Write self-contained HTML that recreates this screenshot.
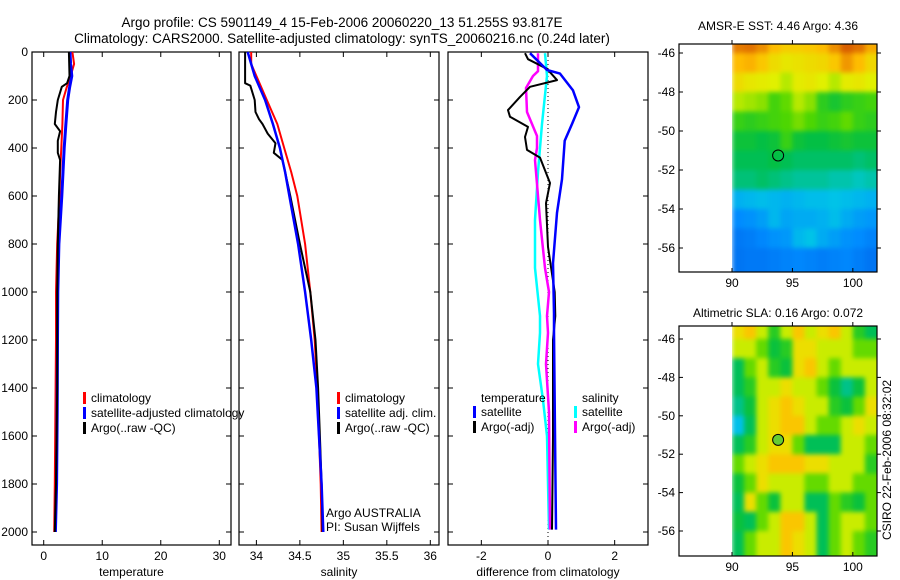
<!DOCTYPE html>
<html><head><meta charset="utf-8"><style>
body{margin:0;background:#fff}
svg{display:block;font-family:"Liberation Sans",sans-serif}
</style></head><body>
<svg id="fig" width="900" height="580" viewBox="0 0 900 580">
<defs><filter id="soft" x="0" y="0" width="1" height="1" color-interpolation-filters="sRGB"><feGaussianBlur stdDeviation="2.5" edgeMode="duplicate"/></filter></defs>
<text x="342" y="27" text-anchor="middle" font-size="13.5">Argo profile: CS 5901149_4 15-Feb-2006 20060220_13 51.255S 93.817E</text>
<text x="342" y="43" text-anchor="middle" font-size="13.5">Climatology: CARS2000. Satellite-adjusted climatology: synTS_20060216.nc (0.24d later)</text>
<text transform="translate(891,460) rotate(-90)" text-anchor="middle" font-size="12">CSIRO 22-Feb-2006 08:32:02</text>
<g id="plots"></g>
</svg>
<script>
// ---- profile data (depth in dbar) ----
const tDepth=[0,50,100,150,200,300,400,500,600,800,1000,1200,1500,1800,2000];
const tClim=[4.9,5.2,4.6,3.9,3.3,3.2,3.0,2.8,2.7,2.3,2.1,2.1,2.0,1.9,1.8];
const tSat=[4.5,4.6,4.8,4.4,4.1,3.8,3.5,3.3,3.1,2.6,2.4,2.35,2.3,2.2,2.0];
const tArgoDepth=[0,100,130,145,200,250,300,330,370,400,420,450,600,800,1000,1400,1800,2000];
const tArgo=[4.3,4.4,4.0,3.1,2.4,2.1,1.9,2.8,2.4,2.4,2.4,2.8,2.6,2.4,2.3,2.3,2.1,1.9];
const sDepth=[0,50,100,200,300,400,500,600,800,1000,1200,1400,1600,1800,2000];
const sClim=[33.94,33.94,34.0,34.12,34.24,34.32,34.4,34.47,34.56,34.62,34.67,34.7,34.72,34.74,34.75];
const sSat=[33.9,33.94,33.98,34.1,34.19,34.27,34.33,34.38,34.48,34.56,34.63,34.69,34.72,34.75,34.77];
const sArgoDepth=[0,130,140,200,250,280,300,340,380,420,450,500,600,800,1000,1200,1400,1600,1800,2000];
const sArgo=[33.87,33.87,33.93,33.98,33.99,34.03,34.07,34.13,34.22,34.2,34.3,34.33,34.39,34.5,34.62,34.68,34.71,34.73,34.75,34.76];
const dTSatDepth=[5,75,90,160,230,300,370,530,670,880,1090,1170,1590,1990];
const dTSat=[-0.54,-0.03,0.36,0.75,0.93,0.72,0.5,0.42,0.27,0.15,0.18,0.18,0.21,0.24];
const dTArgoDepth=[5,30,70,117,145,187,242,270,312,354,408,440,546,630,812,1000,1100,1200,1600,1990];
const dTArgo=[-0.69,-0.6,-0.03,0.27,-0.54,-0.84,-1.2,-1.14,-0.6,-0.69,-0.63,-0.24,0.06,-0.06,0,0.2,0.22,0.15,0.15,0.12];
const dSSatDepth=[5,100,300,500,700,900,1100,1170,1300,1450,1600,1990];
const dSSat=[-0.09,-0.03,-0.18,-0.3,-0.39,-0.39,-0.24,-0.24,-0.3,-0.15,-0.03,0.03];
const dSArgoDepth=[5,80,100,150,250,300,350,400,450,550,700,900,1000,1100,1170,1300,1500,1990];
const dSArgo=[-0.3,-0.3,-0.45,-0.66,-0.63,-0.48,-0.33,-0.33,-0.39,-0.33,-0.24,-0.09,0.03,-0.03,0,-0.06,0.03,0.06];
// ---- map data ----
const mapLons=[90.5,91.5,92.5,93.5,94.5,95.5,96.5,97.5,98.5,99.5,100.5,101.5];
const mapLats=[-45.5,-46.5,-47.5,-48.5,-49.5,-50.5,-51.5,-52.5,-53.5,-54.5,-55.5,-56.5];
const sstGrid=[
[7.5,7.6,7.3,6.8,6.5,6.5,6.6,6.8,7.3,7.8,7.6,7.0],
[6.8,6.9,6.6,6.2,6.0,6.1,6.2,6.3,6.6,7.2,6.8,6.3],
[6.2,6.0,5.9,5.8,5.6,5.9,6.0,5.8,5.6,5.9,6.0,5.8],
[5.6,5.5,5.4,5.0,5.2,5.6,5.4,4.8,4.6,4.8,4.9,5.0],
[4.9,4.8,4.9,5.0,5.1,5.3,5.1,4.9,5.0,5.2,4.9,4.8],
[4.5,4.5,4.4,4.5,4.9,4.5,4.4,4.4,4.5,4.6,4.5,4.5],
[4.3,4.3,4.3,4.4,4.3,4.2,4.2,4.2,4.2,4.2,4.1,4.2],
[4.1,4.1,4.2,4.1,4.0,3.9,3.9,3.9,3.8,3.8,3.7,3.8],
[3.1,3.2,3.3,3.2,3.1,3.2,3.3,3.3,3.4,3.3,3.2,3.1],
[2.5,2.6,2.8,3.2,2.9,3.0,3.0,3.1,3.3,3.0,2.8,2.7],
[2.1,2.2,2.4,2.6,2.7,3.2,3.4,3.0,2.8,2.6,2.5,2.3],
[2.0,2.1,2.1,2.2,2.3,2.4,2.3,2.2,2.3,2.4,2.2,2.0]];
const slaGrid=[
[0.15,0.20,0.10,0.00,0.10,0.20,0.10,0.15,0.20,0.10,0.0,-0.05],
[0.10,0.10,0.05,-0.03,0.00,0.15,0.15,0.10,0.10,0.10,0.05,0.05],
[-0.05,0.05,0.10,0.00,-0.03,0.15,0.20,0.10,0.05,0.10,0.10,0.10],
[-0.05,0.00,0.10,0.10,0.15,0.10,0.10,0.05,-0.03,-0.08,-0.03,0.10],
[-0.08,-0.03,0.10,0.15,0.20,0.15,0.10,0.10,0.00,-0.03,0.05,0.15],
[-0.15,-0.05,0.10,0.15,0.20,0.20,0.10,0.05,0.05,0.10,0.15,0.10],
[-0.05,0.00,0.10,0.15,0.15,0.05,-0.05,-0.05,-0.05,0.10,0.10,0.05],
[0.05,0.10,0.15,0.20,0.20,0.20,0.15,0.15,0.10,0.10,0.10,0.00],
[-0.03,0.05,0.15,0.10,0.10,0.10,0.05,0.05,0.10,0.10,0.05,0.05],
[-0.05,0.15,0.05,-0.03,0.10,0.10,-0.05,-0.05,0.05,0.00,-0.03,0.05],
[-0.03,-0.05,0.05,0.10,0.20,0.20,0.10,-0.05,0.05,0.10,0.10,0.05],
[-0.05,0.05,0.10,0.10,0.20,0.15,0.10,-0.05,0.05,0.10,0.05,0.00]];
const argoPos=[93.817,-51.255];

const NS='http://www.w3.org/2000/svg';
const root=document.getElementById('plots');
function mk(tag,attrs,parent){const e=document.createElementNS(NS,tag);for(const k in attrs)e.setAttribute(k,attrs[k]);(parent||root).appendChild(e);return e;}

const yTop=52,yBot=545;
const yS=d=>yTop+d*0.24;
function panel(name,x0,x1,vmin,vmax,ticks,labels,xlabel,showY){
  const xS=v=>x0+(v-vmin)/(vmax-vmin)*(x1-x0);
  const g=mk('g',{});
  
  
  const box=mk('rect',{x:x0,y:yTop,width:x1-x0,height:yBot-yTop,fill:'none',stroke:'#000','stroke-width':1.2},g);
  
  
  ticks.forEach((t,i)=>{const x=xS(t);
    mk('line',{x1:x,x2:x,y1:yBot,y2:yBot-5,stroke:'#000'},g);
    mk('line',{x1:x,x2:x,y1:yTop,y2:yTop+5,stroke:'#000'},g);
    const tx=mk('text',{x:x,y:yBot+15,'text-anchor':'middle','font-size':12},g);tx.textContent=labels[i];
    
    
  });
  for(let d=0;d<=2000;d+=200){const y=yS(d);
    mk('line',{x1:x0,x2:x0+5,y1:y,y2:y,stroke:'#000'},g);
    mk('line',{x1:x1,x2:x1-5,y1:y,y2:y,stroke:'#000'},g);
    if(showY){const t=mk('text',{x:x0-4,y:y+4,'text-anchor':'end','font-size':12},g);t.textContent=d;
      
      }
  }
  const xl=mk('text',{x:(x0+x1)/2,y:576,'text-anchor':'middle','font-size':12},g);xl.textContent=xlabel;
  
  
  return {g,xS};
}
function line(p,depths,vals,color,w,name){
  const pts=depths.map((d,i)=>p.xS(vals[i]).toFixed(1)+','+yS(d).toFixed(1)).join(' ');
  const l=mk('polyline',{points:pts,fill:'none',stroke:color,'stroke-width':w,'stroke-linejoin':'round'},p.g);
  
  
}
function legend(g,items){items.forEach(it=>{
  if(it.c) mk('rect',{x:it.x,y:it.y-10,width:3,height:12,fill:it.c},g);
  const t=mk('text',{x:it.x+(it.c?8:0),y:it.y,'font-size':12},g);t.textContent=it.t;
  
  
});}

const p1=panel('temperature-panel',32,231,-2,32,[0,10,20,30],['0','10','20','30'],'temperature',true);
line(p1,tDepth,tClim,'#f00',2,'temp-climatology-line');
line(p1,tDepth,tSat,'#00f',3,'temp-satellite-line');
line(p1,tArgoDepth,tArgo,'#000',2,'temp-argo-line');
legend(p1.g,[{x:83,y:402,c:'#f00',t:'climatology'},{x:83,y:417,c:'#00f',t:'satellite-adjusted climatology'},{x:83,y:432,c:'#000',t:'Argo(..raw -QC)'}]);

const p2=panel('salinity-panel',239,439,33.8,36.1,[34,34.5,35,35.5,36],['34','34.5','35','35.5','36'],'salinity',false);
line(p2,sDepth,sClim,'#f00',2,'sal-climatology-line');
line(p2,sArgoDepth,sArgo,'#000',2,'sal-argo-line');
line(p2,sDepth,sSat,'#00f',2.5,'sal-satellite-line');
legend(p2.g,[{x:337,y:402,c:'#f00',t:'climatology'},{x:337,y:417,c:'#00f',t:'satellite adj. clim.'},{x:337,y:432,c:'#000',t:'Argo(..raw -QC)'},
  {x:326,y:517,t:'Argo AUSTRALIA'},{x:326,y:531,t:'PI: Susan Wijffels'}]);

const p3=panel('difference-panel',448,648,-3,3,[-2,0,2],['-2','0','2'],'difference from climatology',false);
mk('line',{x1:p3.xS(0),x2:p3.xS(0),y1:yTop,y2:yBot,stroke:'#000','stroke-dasharray':'1,3'},p3.g);
line(p3,dSSatDepth,dSSat,'#0ff',2.5,'sal-satellite-diff-line');
line(p3,dSArgoDepth,dSArgo,'#f0f',2.5,'sal-argo-diff-line');
line(p3,dTArgoDepth,dTArgo,'#000',2,'temp-argo-diff-line');
line(p3,dTSatDepth,dTSat,'#00f',2.5,'temp-satellite-diff-line');
legend(p3.g,[{x:481,y:402,t:'temperature'},{x:473,y:416,c:'#00f',t:'satellite'},{x:473,y:431,c:'#000',t:'Argo(-adj)'},
  {x:582,y:402,t:'salinity'},{x:574,y:416,c:'#0ff',t:'satellite'},{x:574,y:431,c:'#f0f',t:'Argo(-adj)'}]);

const cmapStops=[[0,[0,70,220]],[0.2,[0,140,255]],[0.33,[0,200,230]],[0.45,[0,190,70]],[0.55,[80,215,0]],[0.64,[225,240,0]],[0.77,[255,190,0]],[0.9,[220,100,0]],[1,[160,30,0]]];
function cmap(t){t=Math.max(0,Math.min(1,t));
  for(let i=1;i<cmapStops.length;i++){const a=cmapStops[i-1],b=cmapStops[i];
    if(t<=b[0]){const f=(t-a[0])/(b[0]-a[0]);const c=a[1].map((v,k)=>Math.round(v+(b[1][k]-v)*f));return `rgb(${c})`;}}
  return 'rgb(160,30,0)';}

function map(name,title,ty,y0,y1,lat46y,lat56y,grid,vmin,vmax,dotColor){
  const x0=679,x1=877,lonS=v=>732+(v-90)*(877-732)/12,latS=v=>lat46y+(-46-v)*(lat56y-lat46y)/10;
  const g=mk('g',{});
  
  
  const cid='clip'+name;
  const cp=mk('clipPath',{id:cid},g);mk('rect',{x:x0,y:y0,width:x1-x0,height:y1-y0},cp);
  const outer=mk('g',{'clip-path':`url(#${cid})`},g);
  const cells=mk('g',{filter:'url(#soft)'},outer);
  grid.forEach((row,i)=>row.forEach((v,j)=>{
    const la=mapLats[i],lo=mapLons[j];
    const yt=latS(la+0.5)-(i==0?15:0),yb=latS(la-0.5)+(i==grid.length-1?20:0);
    const c=mk('rect',{x:lonS(lo-0.5),y:yt,width:lonS(lo+0.5)-lonS(lo-0.5)+0.5+(j==row.length-1?8:0),height:yb-yt+0.5,fill:cmap((v-vmin)/(vmax-vmin))},cells);
    
    
  }));
  mk('rect',{x:x0,y:y0,width:x1-x0,height:y1-y0,fill:'none',stroke:'#000','stroke-width':1.2},g);
  const dot=mk('circle',{cx:lonS(argoPos[0]),cy:latS(argoPos[1]),r:5.5,fill:dotColor,stroke:'#000','stroke-width':1},g);
  
  
  [90,95,100].forEach(l=>{const x=lonS(l);
    mk('line',{x1:x,x2:x,y1:y0,y2:y0-4,stroke:'#000'},g);
    mk('line',{x1:x,x2:x,y1:y1,y2:y1-4,stroke:'#000'},g);
    const t=mk('text',{x:x,y:y1+15,'text-anchor':'middle','font-size':12},g);t.textContent=l;
    
    });
  [-46,-48,-50,-52,-54,-56].forEach(l=>{const y=latS(l);
    mk('line',{x1:x1,x2:x1+4,y1:y,y2:y,stroke:'#000'},g);
    mk('line',{x1:x0,x2:x0+4,y1:y,y2:y,stroke:'#000'},g);
    const t=mk('text',{x:x0-4,y:y+4,'text-anchor':'end','font-size':12},g);t.textContent=l;
    
    });
  const tt=mk('text',{x:778,y:ty,'text-anchor':'middle','font-size':12},g);tt.textContent=title;
  
  
}
map('sst-map','AMSR-E SST: 4.46 Argo: 4.36',30,44,272,53,248,sstGrid,1.0,8.5,'none');
map('sla-map','Altimetric SLA: 0.16 Argo: 0.072',317,326,556,339,531,slaGrid,-0.4,0.4,'#6c3');
</script>
</body></html>
